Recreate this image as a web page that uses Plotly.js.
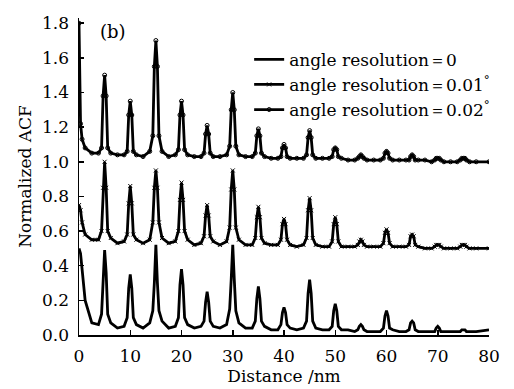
<!DOCTYPE html>
<html>
<head>
<meta charset="utf-8">
<script src="https://cdn.plot.ly/plotly-3.0.1.min.js"></script>
<style>html,body{margin:0;padding:0;background:#fff;}#chart{width:514px;height:389px;}</style>
</head>
<body>
<div id="chart"></div>
<script>
// Distance (nm) sample positions
const distance = [
  0, 0.3, 0.6, 1.2, 2.5,
  3.8, 4.4, 4.7, 5, 5.3, 5.6, 6.2, 7.5,
  8.8, 9.4, 9.7, 10, 10.3, 10.6, 11.2, 12.5,
  13.8, 14.4, 14.7, 15, 15.3, 15.6, 16.2, 17.5,
  18.8, 19.4, 19.7, 20, 20.3, 20.6, 21.2, 22.5,
  23.8, 24.4, 24.7, 25, 25.3, 25.6, 26.2, 27.5,
  28.8, 29.4, 29.7, 30, 30.3, 30.6, 31.2, 32.5,
  33.8, 34.4, 34.7, 35, 35.3, 35.6, 36.2, 37.5,
  38.8, 39.4, 39.7, 40, 40.3, 40.6, 41.2, 42.5,
  43.8, 44.4, 44.7, 45, 45.3, 45.6, 46.2, 47.5,
  48.8, 49.4, 49.7, 50, 50.3, 50.6, 51.2, 52.5,
  53.8, 54.4, 54.7, 55, 55.3, 55.6, 56.2, 57.5,
  58.8, 59.4, 59.7, 60, 60.3, 60.6, 61.2, 62.5,
  63.8, 64.4, 64.7, 65, 65.3, 65.6, 66.2, 67.5,
  68.8, 69.4, 69.7, 70, 70.3, 70.6, 71.2, 72.5,
  73.8, 74.4, 74.7, 75, 75.3, 75.6, 76.2, 77.5,
  80
];
// angle resolution = 0
const acfRes0 = [
  0.50, 0.47, 0.38, 0.20, 0.07,
  0.06, 0.12, 0.36, 0.49, 0.36, 0.12, 0.07, 0.04,
  0.05, 0.10, 0.27, 0.35, 0.27, 0.10, 0.06, 0.04,
  0.07, 0.14, 0.30, 0.52, 0.30, 0.14, 0.08, 0.04,
  0.05, 0.10, 0.29, 0.38, 0.29, 0.10, 0.06, 0.04,
  0.05, 0.08, 0.19, 0.25, 0.19, 0.08, 0.05, 0.04,
  0.06, 0.15, 0.32, 0.52, 0.32, 0.14, 0.07, 0.04,
  0.04, 0.08, 0.21, 0.28, 0.21, 0.08, 0.05, 0.03,
  0.03, 0.06, 0.13, 0.16, 0.13, 0.06, 0.04, 0.03,
  0.04, 0.08, 0.24, 0.32, 0.24, 0.08, 0.04, 0.03,
  0.03, 0.05, 0.14, 0.18, 0.14, 0.05, 0.03, 0.03,
  0.02, 0.03, 0.05, 0.06, 0.05, 0.03, 0.02, 0.02,
  0.02, 0.04, 0.11, 0.14, 0.11, 0.04, 0.03, 0.02,
  0.02, 0.03, 0.07, 0.08, 0.07, 0.03, 0.02, 0.02,
  0.02, 0.02, 0.04, 0.05, 0.04, 0.02, 0.02, 0.02,
  0.02, 0.02, 0.03, 0.03, 0.03, 0.02, 0.02, 0.02,
  0.03
];
// angle resolution = 0.01 deg
const acfRes001 = [
  0.75, 0.72, 0.65, 0.58, 0.55,
  0.55, 0.60, 0.85, 1.00, 0.85, 0.60, 0.56, 0.53,
  0.54, 0.58, 0.76, 0.86, 0.76, 0.58, 0.55, 0.53,
  0.55, 0.65, 0.85, 0.95, 0.85, 0.65, 0.56, 0.53,
  0.54, 0.60, 0.78, 0.88, 0.78, 0.60, 0.55, 0.52,
  0.53, 0.57, 0.69, 0.75, 0.69, 0.57, 0.54, 0.52,
  0.54, 0.62, 0.84, 0.95, 0.84, 0.62, 0.55, 0.52,
  0.52, 0.56, 0.68, 0.74, 0.68, 0.56, 0.53, 0.52,
  0.52, 0.55, 0.64, 0.67, 0.64, 0.55, 0.52, 0.51,
  0.52, 0.56, 0.72, 0.79, 0.72, 0.56, 0.52, 0.51,
  0.51, 0.54, 0.64, 0.68, 0.64, 0.54, 0.51, 0.51,
  0.51, 0.52, 0.54, 0.55, 0.54, 0.52, 0.51, 0.51,
  0.51, 0.53, 0.59, 0.61, 0.59, 0.53, 0.51, 0.51,
  0.51, 0.52, 0.57, 0.58, 0.57, 0.52, 0.51, 0.50,
  0.50, 0.51, 0.52, 0.52, 0.52, 0.51, 0.50, 0.50,
  0.50, 0.51, 0.52, 0.52, 0.52, 0.51, 0.50, 0.50,
  0.50
];
// angle resolution = 0.02 deg
const acfRes002 = [
  1.80, 1.22, 1.13, 1.08, 1.05,
  1.05, 1.08, 1.38, 1.50, 1.38, 1.08, 1.05, 1.04,
  1.04, 1.06, 1.27, 1.35, 1.27, 1.06, 1.04, 1.03,
  1.06, 1.15, 1.55, 1.70, 1.55, 1.15, 1.06, 1.03,
  1.04, 1.07, 1.27, 1.35, 1.27, 1.07, 1.04, 1.03,
  1.03, 1.05, 1.16, 1.21, 1.16, 1.05, 1.03, 1.03,
  1.04, 1.09, 1.30, 1.40, 1.30, 1.09, 1.04, 1.03,
  1.03, 1.05, 1.15, 1.19, 1.15, 1.05, 1.03, 1.02,
  1.02, 1.03, 1.08, 1.10, 1.08, 1.03, 1.02, 1.02,
  1.02, 1.04, 1.14, 1.18, 1.14, 1.04, 1.02, 1.02,
  1.02, 1.03, 1.07, 1.08, 1.07, 1.03, 1.02, 1.01,
  1.01, 1.02, 1.03, 1.04, 1.03, 1.02, 1.01, 1.01,
  1.01, 1.02, 1.05, 1.06, 1.05, 1.02, 1.01, 1.01,
  1.01, 1.01, 1.03, 1.04, 1.03, 1.01, 1.01, 1.01,
  1.00, 1.01, 1.02, 1.02, 1.02, 1.01, 1.00, 1.00,
  1.00, 1.01, 1.02, 1.02, 1.02, 1.01, 1.00, 1.00,
  1.00
];
const seriesNames = [
  'angle resolution\uFF1D0',
  'angle resolution\uFF1D0.01<sup>\u00B0</sup>',
  'angle resolution\uFF1D0.02<sup>\u00B0</sup>'
];
const xTicks = [0, 10, 20, 30, 40, 50, 60, 70, 80];
const yTicks = [0.0, 0.2, 0.4, 0.6, 0.8, 1.0, 1.2, 1.4, 1.6, 1.8];

const font = {family: '"DejaVu Serif", "Liberation Serif", serif', color: '#000'};
const f = s => Object.assign({size: s}, font);

const traces = [
  {x: distance, y: acfRes0, name: seriesNames[0], mode: 'lines',
   line: {color: '#000', width: 2.8}},
  {x: distance, y: acfRes001, name: seriesNames[1], mode: 'lines+markers',
   line: {color: '#000', width: 2.8}, marker: {symbol: 'x-thin-open', size: 4, color: '#000', line: {width: 1, color: '#000'}}},
  {x: distance, y: acfRes002, name: seriesNames[2], mode: 'lines+markers',
   line: {color: '#000', width: 2.8}, marker: {symbol: 'circle-open', size: 4, color: '#000', line: {width: 1, color: '#000'}}}
];

const layout = {
  width: 514, height: 389,
  margin: {l: 79, r: 25, t: 18, b: 54},
  paper_bgcolor: '#fff', plot_bgcolor: '#fff',
  font: f(17),
  showlegend: true,
  legend: {x: 0.415, y: 0.925, xanchor: 'left', yanchor: 'top', bgcolor: 'rgba(0,0,0,0)',
           font: f(17), itemwidth: 30, tracegroupgap: 0},
  xaxis: {range: [0, 80], tickvals: xTicks, ticktext: xTicks.map(String),
          ticks: 'inside', ticklen: 5, tickwidth: 1.5, tickcolor: '#000',
          showline: true, linecolor: '#000', linewidth: 1.5, mirror: false,
          showgrid: false, zeroline: false, ticklabelstandoff: 5,
          tickfont: f(17),
          title: {text: 'Distance /nm', font: f(17), standoff: 4}},
  yaxis: {range: [0, 1.83], tickvals: yTicks, ticktext: yTicks.map(v => v.toFixed(1)),
          ticks: 'inside', ticklen: 5, tickwidth: 1.5, tickcolor: '#000',
          showline: true, linecolor: '#000', linewidth: 1.5, mirror: false,
          showgrid: false, zeroline: false, ticklabelstandoff: 5,
          tickfont: f(17),
          title: {text: 'Normalized ACF', font: f(17), standoff: 6}},
  annotations: [{x: 6.6, y: 1.75, xref: 'x', yref: 'y', text: '(b)', showarrow: false,
                 font: f(18)}]
};

Plotly.newPlot('chart', traces, layout, {displayModeBar: false, staticPlot: true});
</script>
</body>
</html>
